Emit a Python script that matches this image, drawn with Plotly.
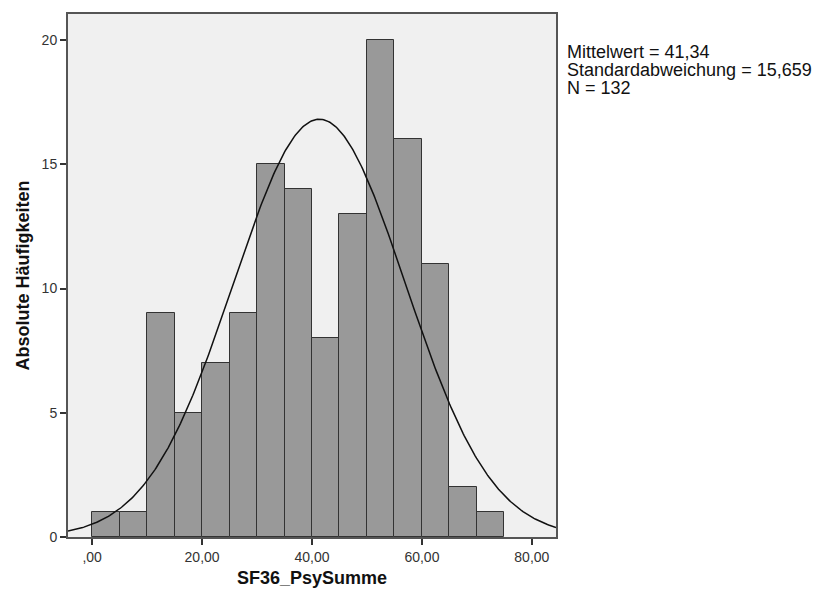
import numpy as np
import plotly.graph_objects as go

bin_starts = [0, 5, 10, 15, 20, 25, 30, 35, 40, 45, 50, 55, 60, 65, 70]
counts = [1, 1, 9, 5, 7, 9, 15, 14, 8, 13, 20, 16, 11, 2, 1]
bin_width = 5
mean_val = 41.34
sd_val = 15.659
n_total = 132
x_ticks = [0, 20, 40, 60, 80]
x_tick_labels = [",00", "20,00", "40,00", "60,00", "80,00"]
y_ticks = [0, 5, 10, 15, 20]
stats_lines = ["Mittelwert = 41,34", "Standardabweichung = 15,659", "N = 132"]

centers = [b + bin_width / 2 for b in bin_starts]

xs = np.linspace(-4.4, 84.4, 400)
ys = n_total * bin_width / (sd_val * np.sqrt(2 * np.pi)) * np.exp(-0.5 * ((xs - mean_val) / sd_val) ** 2)

fig = go.Figure()
fig.add_trace(go.Bar(
    x=centers, y=counts, width=bin_width,
    marker=dict(color="#999999", line=dict(color="#333333", width=1)),
    hoverinfo="x+y",
))
fig.add_trace(go.Scatter(
    x=xs, y=ys, mode="lines",
    line=dict(color="#111111", width=1.5),
    hoverinfo="skip",
))

font_family = "Liberation Sans, Arial, sans-serif"
fig.update_layout(
    width=822, height=590,
    margin=dict(l=68, r=266, t=14, b=53, autoexpand=False),
    paper_bgcolor="white",
    plot_bgcolor="#f0f0f0",
    showlegend=False,
    bargap=0,
    font=dict(family=font_family, color="#333333", size=14),
    xaxis=dict(
        range=[-4.4, 84.4], tickvals=x_ticks, ticktext=x_tick_labels,
        ticks="outside", ticklen=6, tickcolor="#333333", tickwidth=1.5,
        showgrid=False, zeroline=False, automargin=False,
        showline=True, linecolor="#555555", linewidth=2, mirror=True,
        tickfont=dict(size=14, color="#333333"),
    ),
    yaxis=dict(
        range=[0, 21.05], tickvals=y_ticks,
        ticks="outside", ticklen=6, tickcolor="#333333", tickwidth=1.5,
        showgrid=False, zeroline=False, automargin=False,
        showline=True, linecolor="#555555", linewidth=2, mirror=True,
        tickfont=dict(size=14, color="#333333"),
    ),
)

# axis titles
fig.add_annotation(
    xref="paper", yref="paper", x=0.5, y=0, yshift=-41,
    xanchor="center", yanchor="middle", showarrow=False,
    text="<b>SF36_PsySumme</b>",
    font=dict(size=18, color="#111111", family=font_family),
)
fig.add_annotation(
    xref="paper", yref="paper", x=0, y=0.5, xshift=-46,
    xanchor="center", yanchor="middle", showarrow=False, textangle=-90,
    text="<b>Absolute Häufigkeiten</b>",
    font=dict(size=18, color="#111111", family=font_family),
)

# statistics box: one text block, tight line spacing (base size 14), glyphs at 18px
stats_text = "<br>".join(f'<span style="font-size:18px">{s}</span>' for s in stats_lines)
fig.add_annotation(
    xref="paper", yref="paper", x=1.0, y=1.0,
    xanchor="left", yanchor="top", xshift=9, yshift=-26,
    align="left", showarrow=False, text=stats_text,
    font=dict(size=14, color="#111111", family=font_family),
)

fig.write_html("out.html")
